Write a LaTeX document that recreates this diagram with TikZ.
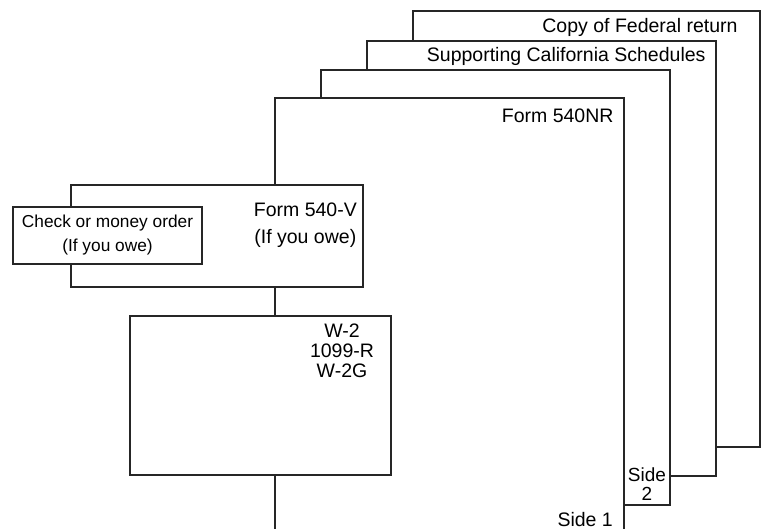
\documentclass[tikz,border=0pt]{standalone}
\usepackage{fontspec}
\setmainfont{Liberation Sans}
\usetikzlibrary{calc, positioning}

\begin{document}
\begin{tikzpicture}[x=1pt, y=-1pt,
	sheet/.style={draw=black!85, line width=1.4pt, fill=white, rectangle, inner sep=0pt},
	txt/.style={inner sep=0pt, font=\fontsize{19.5}{22}\selectfont}]
	\useasboundingbox (0,0) rectangle (762,529);
	\clip (0,0) rectangle (762,529);

	% stack of return sheets, back to front
	\node[sheet, minimum width=347pt, minimum height=436pt] (fed) at (586.5,229) {};
	\node[txt, anchor=base east] (fedtxt) at ($(fed.north east)+(-23,22)$) {Copy of Federal return};

	\node[sheet, minimum width=349pt, minimum height=435pt] (sup) at (541.5,258.5) {};
	\node[txt, anchor=base east] (suptxt) at ($(sup.north east)+(-11,21)$) {Supporting California Schedules};

	\node[sheet, minimum width=349pt, minimum height=435pt] (back) at (495.5,287.5) {};
	\node[txt, align=center, font=\fontsize{19}{18.5}\selectfont] (side2) at (647,484) {Side\\2};

	\node[sheet, minimum width=349pt, minimum height=435pt] (nr) at (449.5,315.5) {};
	\node[txt, anchor=base east] (nrtxt) at ($(nr.north east)+(-11,25)$) {Form 540NR};
	\node[txt, anchor=base east] (side1) at (613,526) {Side 1};

	% payment voucher and check
	\node[sheet, minimum width=292pt, minimum height=102pt] (voucher) at (217,236) {};
	\node[txt, align=center, anchor=east, font=\fontsize{19.5}{27}\selectfont] (vtxt) at (357,225) {Form 540-V\\(If you owe)};

	\node[sheet, minimum width=189pt, minimum height=57pt] (check) at (107.5,235.5) {};
	\node[txt, align=center, font=\fontsize{17.3}{24}\selectfont] (chktxt) at (check.center) {Check or money order\\(If you owe)};

	% wage statements
	\node[sheet, minimum width=261pt, minimum height=159pt] (wage) at (260.5,395.5) {};
	\node[txt, align=center, font=\fontsize{19.5}{20}\selectfont] (wagetxt) at (342,351) {W-2\\1099-R\\W-2G};
\end{tikzpicture}
\end{document}
